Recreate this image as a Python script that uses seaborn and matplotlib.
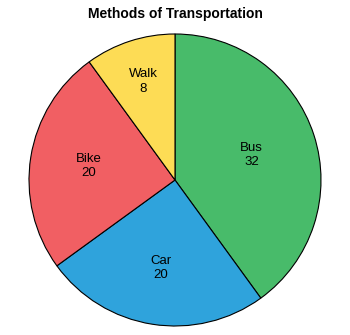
import numpy as np
import matplotlib
matplotlib.use("Agg")
import matplotlib.pyplot as plt
import seaborn as sns

categories = ["Bus", "Car", "Bike", "Walk"]
values = [32, 20, 20, 8]
colors = ["#48BB6A", "#2FA3DC", "#F15F63", "#FDDC55"]
label_radius = [0.55, 0.61, 0.60, 0.71]

sns.set_style("white")
plt.rcParams['font.family'] = ['Liberation Sans', 'DejaVu Sans']
plt.rcParams['text.color'] = 'black'

fig = plt.figure(figsize=(3.5, 3.35), dpi=100)
ax = fig.add_axes([29/350, 9/335, 292/350, 292/335])
pal = sns.color_palette(colors)
wedges, _ = ax.pie(values, colors=pal, startangle=90, counterclock=False,
                   wedgeprops=dict(edgecolor="black", linewidth=0.8),
                   radius=1)
for w, cat, val, r in zip(wedges, categories, values, label_radius):
    ang = np.deg2rad((w.theta1 + w.theta2) / 2)
    ax.text(r*np.cos(ang), r*np.sin(ang), f"{cat}\n{val}", ha="center", va="center",
            fontsize=9.5, linespacing=1.25, color="black")
ax.set_xlim(-1, 1)
ax.set_ylim(-1, 1)
ax.set_aspect("equal")
ax.axis("off")
fig.text(175/350, 1 - 14/335, "Methods of Transportation", ha="center", va="center",
         fontsize=10, fontweight="bold", color="black")
fig.savefig("out.png", dpi=100)
